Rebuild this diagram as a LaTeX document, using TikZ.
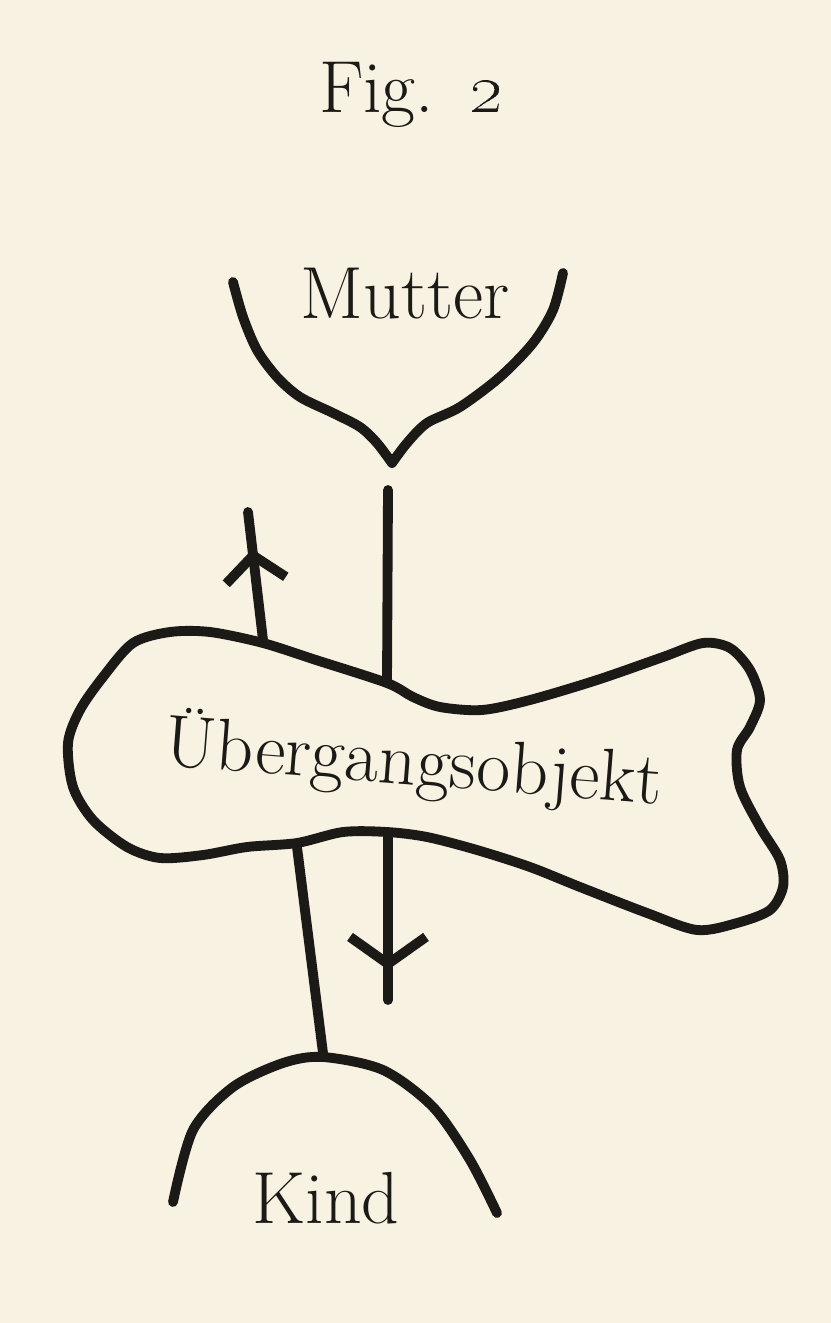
\documentclass[tikz,border=0pt]{standalone}
\usetikzlibrary{arrows.meta,decorations.markings}
\definecolor{Ink}{HTML}{1B1A17}
\definecolor{Paper}{HTML}{F8F2E2}

\begin{document}
\begin{tikzpicture}[x=.1mm,y=-.1mm,
  ink/.style={Ink,line width=2.8pt,line cap=round,line join=round},
  word/.style={text=Ink,font=\fontsize{21}{25}\selectfont,anchor=base,inner sep=0pt},
  barb/.style n args={3}{postaction={decorate},decoration={markings,
    mark=at position #1 with {\arrow{Straight Barb[length=#2,width=#3]}}}}]
\fill[Paper] (0,0) rectangle (831,1323);
\node[word] (fig) at (411,112) {Fig.\hspace{.35cm}\oldstylenums{2}};
\node[word] (mutter) at (405,318) {Mutter};
\node[word] (kind) at (326,1223) {Kind};
\node[word,rotate=-4.5] (objekt) at (412,785) {Übergangsobjekt};
\coordinate (stemtop) at (388,490);
\coordinate (stembot) at (387,683);
\coordinate (upfoot) at (263,640);
\coordinate (uptip) at (248,512);
\coordinate (downfoot) at (388,833);
\coordinate (downtip) at (388,1000);
\coordinate (kindtop) at (297,847);
\coordinate (kindfoot) at (323,1053);
\draw[ink] plot[smooth] coordinates {(233,282) (243,317) (257,350) (277,377) (300,397) (333,413) (360,427) (377,443) (392,463)}
  -- plot[smooth] coordinates {(392,463) (407,443) (427,423) (460,407) (500,377) (533,343) (553,310) (563,273)};
\draw[ink] plot[smooth] coordinates {(173,1202) (193,1130) (233,1087) (283,1063) (323,1057) (383,1070) (433,1107) (470,1160) (497,1213)};
\draw[ink] plot[smooth cycle] coordinates {(170,632) (210,632) (263,643) (316,660) (387,683) (413,697) (440,707)
  (482,710) (530,700) (597,680) (663,657) (703,643) (730,648) (750,670) (760,700) (750,727) (737,750) (740,787)
  (760,827) (780,860) (783,887) (770,910) (737,923) (697,930) (647,913) (580,887) (530,867) (477,850) (427,837)
  (387,832) (343,832) (297,843) (247,847) (203,855) (160,858) (127,847) (93,820) (73,787) (68,743) (80,710)
  (103,677) (133,643)};
\draw[ink] (stemtop) -- (stembot);
\draw[ink,barb={.71}{.25cm}{.6cm}] (upfoot) -- (uptip);
\draw[ink,barb={.82}{.27cm}{.76cm}] (downfoot) -- (downtip);
\draw[ink] (kindtop) -- (kindfoot);
\end{tikzpicture}
\end{document}
